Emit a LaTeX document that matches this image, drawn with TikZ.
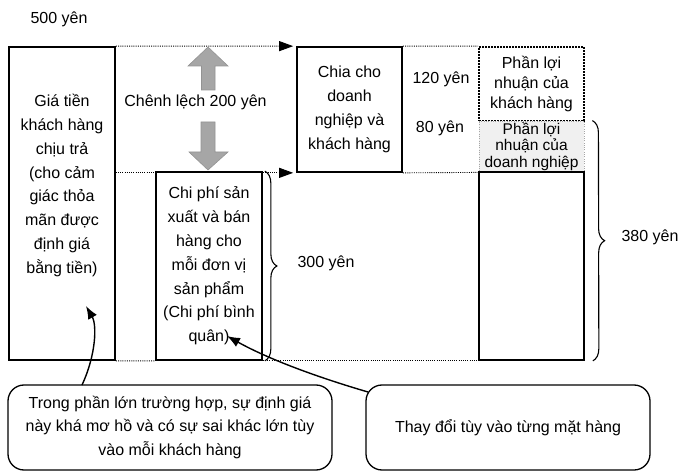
\documentclass[tikz,border=0pt]{standalone}
\usepackage{fontspec}
\setmainfont{Liberation Sans}
\usetikzlibrary{arrows.meta,decorations.pathreplacing,calc}
\begin{document}
\begin{tikzpicture}[x=1bp,y=-1bp,
  every node/.style={font=\fontsize{16bp}{23.8bp}\selectfont, inner sep=0pt},
  box/.style={draw, line width=1.7bp, align=center},
  txt/.style={align=center},
  dotline/.style={line width=0.9bp, dash pattern=on 1bp off 1.2bp},
  dotarrow/.style={dotline, -{Triangle[length=14bp,width=10bp]}},
  callout/.style={draw, line width=1.3bp, rounded corners=16bp, align=center},
  blockarrow/.style={fill=gray!70, draw=gray!85, line width=0.6bp},
  bracestyle/.style={decorate, decoration={brace, amplitude=12bp}, line width=1.1bp},
  pointer/.style={line width=1.4bp, -{Latex[length=13bp,width=10bp]}}
]
\useasboundingbox (0,0) rectangle (680,473);

% top label
\node (p500) at (59,19) {500 yên};

% left box
\node[box, minimum width=106bp, minimum height=313bp] (L) at (62,203.5) {};
\node[txt] (Ltxt) at (62,185.5) {Giá tiền\\khách hàng\\chịu trả\\(cho cảm\\giác thỏa\\mãn được\\định giá\\bằng tiền)};

% middle box
\node[box, minimum width=106bp, minimum height=188bp] (M) at (209,266)
  {Chi phí sản\\xuất và bán\\hàng cho\\mỗi đơn vị\\sản phẩm\\(Chi phí bình\\quân)};

% Chia box
\node[box, minimum width=105bp, minimum height=125bp] (C) at (349.5,109.5)
  {Chia cho\\doanh\\nghiệp và\\khách hàng};

% right column
\node[draw, line width=1.6bp, dash pattern=on 1.6bp off 1.4bp, minimum width=105bp, minimum height=74bp,
  align=center, font=\fontsize{16bp}{20bp}\selectfont] (PK) at (531.5,84)
  {Phần lợi\\nhuận của\\khách hàng};
\node[draw=gray!70, fill=gray!12, line width=0.8bp, dash pattern=on 1bp off 1.3bp, minimum width=105bp, minimum height=51bp,
  align=center, font=\fontsize{15.5bp}{16.5bp}\selectfont] (PD) at (531.5,146.5)
  {Phần lợi\\nhuận của\\doanh nghiệp};
\node[box, minimum width=105bp, minimum height=188bp] (PB) at (531.5,266) {};

% amounts
\node (a120) at (441,79) {120 yên};
\node (a80) at (440,128) {80 yên};
\node (diff) at (195.5,102) {Chênh lệch 200 yên};

% dotted guide lines
\draw[dotarrow, shorten >=3bp] (L.north east) -- (C.north west);
\draw[dotarrow, shorten >=3bp] (L.east |- C.south west) -- (C.south west);
\draw[dotline] (C.north east) -- (PK.north west);
\draw[dotline] (C.south east) -- (PD.south west);
\draw[dotline] (L.south east) -- (M.south west);
\draw[dotline] (M.south east) -- (PB.south west);

% grey block arrows
\draw[blockarrow] (208,47) -- (228,66) -- (215,66) -- (215,90) -- (201.5,90) -- (201.5,66) -- (188,66) -- cycle;
\draw[blockarrow] (201,122) -- (215,122) -- (215,152) -- (228,152) -- (208,170) -- (189,152) -- (201,152) -- cycle;

% braces
\draw[bracestyle] ($(M.north east)+(2,0)$) -- ($(M.south east)+(2,0)$);
\node (a300) at (326,263) {300 yên};
\draw[bracestyle] ($(PD.north east)+(8,0)$) -- ($(PB.south east)+(8,0)$);
\node (a380) at (650,237) {380 yên};

% callouts
\node[callout, minimum width=324bp, minimum height=85bp] (CL) at (170,427.5)
  {Trong phần lớn trường hợp, sự định giá\\này khá mơ hồ và có sự sai khác lớn tùy\\vào mỗi khách hàng};
\node[callout, minimum width=284bp, minimum height=85bp] (CR) at (508,427.5)
  {Thay đổi tùy vào từng mặt hàng};

% pointers
\coordinate (s1) at (82,385);
\coordinate (t1) at (86,306);
\coordinate (s2) at (368,392);
\coordinate (t2) at (227,336);
\draw[pointer] (s1) .. controls (96,355) and (97,325) .. (t1);
\draw[pointer] (s2) .. controls (320,378) and (270,360) .. (t2);
\end{tikzpicture}
\end{document}
